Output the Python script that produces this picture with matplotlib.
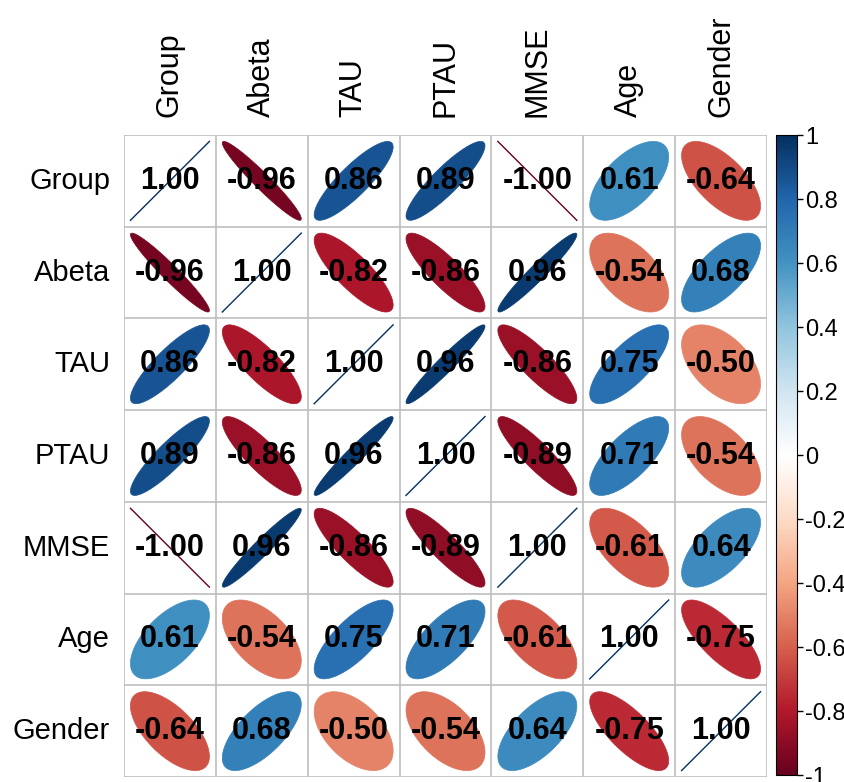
import numpy as np
import matplotlib
matplotlib.use("Agg")
import matplotlib.pyplot as plt
from matplotlib.colors import LinearSegmentedColormap, Normalize
from matplotlib.patches import Polygon
from matplotlib.cm import ScalarMappable

plt.rcParams['font.family'] = ['Liberation Sans', 'DejaVu Sans']

names = ["Group", "Abeta", "TAU", "PTAU", "MMSE", "Age", "Gender"]
corr = [
    [1.00, -0.96, 0.86, 0.89, -1.00, 0.61, -0.64],
    [-0.96, 1.00, -0.82, -0.86, 0.96, -0.54, 0.68],
    [0.86, -0.82, 1.00, 0.96, -0.86, 0.75, -0.50],
    [0.89, -0.86, 0.96, 1.00, -0.89, 0.71, -0.54],
    [-1.00, 0.96, -0.86, -0.89, 1.00, -0.61, 0.64],
    [0.61, -0.54, 0.75, 0.71, -0.61, 1.00, -0.75],
    [-0.64, 0.68, -0.50, -0.54, 0.64, -0.75, 1.00],
]
cbar_ticks = [-1, -0.8, -0.6, -0.4, -0.2, 0, 0.2, 0.4, 0.6, 0.8, 1]
cbar_labels = ["-1", "-0.8", "-0.6", "-0.4", "-0.2", "0", "0.2", "0.4", "0.6", "0.8", "1"]

# corrplot RdBu palette
cols = ["#67001F", "#B2182B", "#D6604D", "#F4A582", "#FDDBC7", "#FFFFFF",
        "#D1E5F0", "#92C5DE", "#4393C3", "#2166AC", "#053061"]
cmap = LinearSegmentedColormap.from_list("corrRdBu", cols)
norm = Normalize(-1, 1)

W, H = 845, 782
fig = plt.figure(figsize=(W / 100, H / 100), dpi=100)

left, right, top, bottom = 124, 767, 135, 777
ax = fig.add_axes([left / W, 1 - bottom / H, (right - left) / W, (bottom - top) / H])
n = len(names)
ax.set_xlim(0, n)
ax.set_ylim(0, n)

k = np.linspace(0, 2 * np.pi, 120)
s = 0.43
for i in range(n):
    for j in range(n):
        r = corr[i][j]
        cx, cy = j + 0.5, n - i - 0.5
        d = np.arccos(np.clip(r, -1, 1))
        ex = cx + s * np.cos(k + d / 2)
        ey = cy + s * np.cos(k - d / 2)
        c = cmap(norm(r))
        if abs(r) >= 0.999:
            ax.plot([cx - s, cx + s], [cy - s * np.sign(r), cy + s * np.sign(r)],
                    color=c, lw=1.0)
        else:
            ax.add_patch(Polygon(np.column_stack([ex, ey]), closed=True,
                                 facecolor=c, edgecolor=c, lw=0.5))
        ax.text(cx, cy, f"{r:.2f}", ha="center", va="center", fontsize=22,
                fontweight="bold", color="black", zorder=5)

for v in range(n + 1):
    ax.axhline(v, color="#BEBEBE", lw=1.2, zorder=4)
    ax.axvline(v, color="#BEBEBE", lw=1.2, zorder=4)

ax.set_xticks([])
ax.set_yticks([])
for sp in ax.spines.values():
    sp.set_visible(False)

for j, nm in enumerate(names):
    ax.text(j + 0.5, n + 0.2, nm, rotation=90, ha="center", va="bottom",
            fontsize=22, clip_on=False)
    ax.text(-0.15, n - j - 0.5, nm, ha="right", va="center", fontsize=21,
            clip_on=False)

cax = fig.add_axes([776 / W, 1 - 775 / H, 21 / W, (775 - 135) / H])
cb = fig.colorbar(ScalarMappable(norm=norm, cmap=cmap), cax=cax)
cb.set_ticks(cbar_ticks)
cb.set_ticklabels(cbar_labels)
cb.ax.tick_params(labelsize=17, length=4, width=1, direction="out", pad=2)
cb.outline.set_linewidth(0.8)

fig.savefig("out.png", dpi=100)
